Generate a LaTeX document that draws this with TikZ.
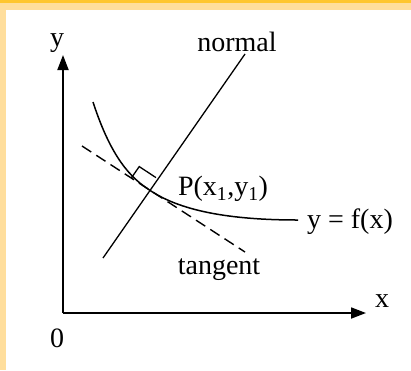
\documentclass[tikz,border=0pt]{standalone}
\usepackage{fontspec}
\setmainfont{Liberation Serif}
\usetikzlibrary{arrows.meta,calc}
\definecolor{bandlight}{HTML}{FFDE9C}
\definecolor{banddark}{HTML}{FFC62E}
\begin{document}
\begin{tikzpicture}[x=1pt,y=-1pt,
  axis/.style={line width=1.8pt,-{Triangle[length=15pt,width=11pt]}},
  lbl/.style={font=\fontsize{28}{30}\selectfont,inner sep=0pt},
  thin line/.style={line width=1.3pt},
  curveline/.style={line width=1.5pt},
  tangline/.style={line width=1.4pt,dash pattern=on 11pt off 6pt}]
\useasboundingbox (0,0) rectangle (411,370);
\fill[white] (0,0) rectangle (411,370);
\fill[bandlight] (0,0) rectangle (411,10);
\fill[bandlight] (0,0) rectangle (6,370);
\fill[banddark] (0,0) rectangle (411,2.5);
% coordinates
\coordinate (O) at (63,313);
\coordinate (ytip) at (63,55);
\coordinate (xtip) at (366,313);
\coordinate (P) at (148,189);
\coordinate (ntop) at (245,54);
\coordinate (nbot) at (103,258);
\coordinate (tstart) at (82,146);
\coordinate (tend) at (245,252);
\coordinate (cstart) at (93,102);
\coordinate (cend) at (298,220);
% axes
\draw[axis] (O) -- (ytip);
\draw[axis] (O) -- (xtip);
% normal
\draw[thin line] (nbot) -- (ntop);
% tangent
\draw[tangline] (tstart) -- (tend);
% curve
\draw[curveline] (cstart) .. controls (108,148) and (125,174) .. (P)
  .. controls (175,208) and (220,220) .. (cend);
% right angle mark
\draw[thin line] ($(P)!20pt!(tstart)$) coordinate (ra1)
  -- ++(8.0,-11.5) coordinate (ra2)
  -- ++(16.7,11.0) coordinate (ra3);
% labels
\node[lbl] (ylab) at (57,43) {y};
\node[lbl] (xlab) at (382,301) {x};
\node[lbl] (zero) at (57,338) {0};
\node[lbl] (normal) at (237,42) {normal};
\node[lbl] (plab) at (223,189) {P(x\textsubscript{1},y\textsubscript{1})};
\node[lbl] (flab) at (350,222) {y = f(x)};
\node[lbl] (tlab) at (219,270) {tangent};
\end{tikzpicture}
\end{document}
